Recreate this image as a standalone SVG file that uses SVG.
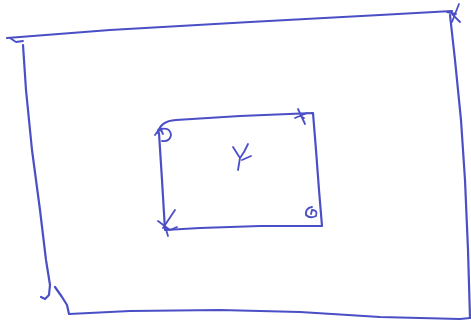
<svg xmlns="http://www.w3.org/2000/svg" width="471" height="324" viewBox="0 0 471 324">
<style>
.s{fill:none;stroke:#4a4fc6;stroke-width:2.2;stroke-linecap:round;stroke-linejoin:round}
.t{fill:none;stroke:#4a4fc6;stroke-width:1.8;stroke-linecap:round;stroke-linejoin:round}
</style>
<rect width="471" height="324" fill="#fff"/>
<g id="outer">
<path class="s" d="M7,38 L110,30 L250,22 L380,15 L452,11"/>
<path class="t" d="M10,38 L16,42 L23,41"/>
<path class="s" d="M23,45 L26,90 L32,150 L40,210 L46,260 L50,285 L49,295 L45,299 L41,297"/>
<path class="s" d="M55,287 L62,297 L67,305 L69,314 L130,311 L220,310 L300,312 L380,317 L460,319 L470,318"/>
<path class="s" d="M450,15 L455,60 L461,120 L465,180 L468,250 L470,318"/>
<path class="t" d="M459,4 L455,14 L452,22 M452,14 L460,22 M447,12 L456,14"/>
</g>
<g id="inner">
<path class="s" d="M158,133 Q160,121 176,120 L240,116 L313,113 L316,150 L319,190 L322,226 L260,226 L200,228 L165,230 L162,180 L159,133"/>
<path class="t" d="M158,130 L162,131 M155,135 L160,128 L163,134"/>
<path class="t" d="M161,129 Q170,127 171,135 Q170,142 162,141"/>
<path class="t" d="M298,109 L305,124 M295,118 L307,113 M300,116 L304,118"/>
<path class="t" d="M312,207 Q305,208 306,215 Q310,219 316,216 Q318,210 312,210 L311,214"/>
<path class="t" d="M175,210 L163,228 M158,221 L170,230 L177,227 M165,226 L168,236"/>
<path class="t" d="M233,147 L240,158 L244,152 L248,144 M240,158 L238,170 M242,160 L251,156"/>
</g>
</svg>
